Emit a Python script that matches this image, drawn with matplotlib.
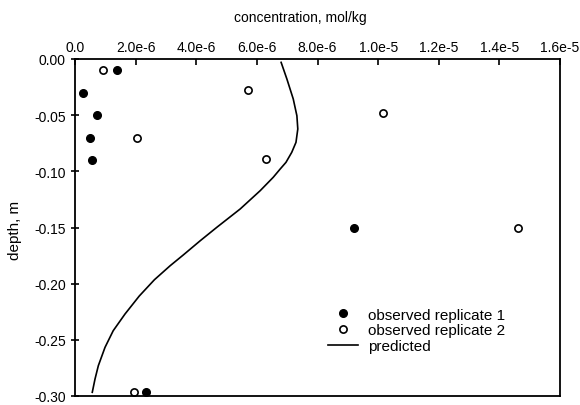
import matplotlib
matplotlib.use("Agg")
import matplotlib.pyplot as plt

plt.rcParams['font.family'] = ['Liberation Sans', 'DejaVu Sans']
plt.rcParams['axes.unicode_minus'] = False

# observed replicate 1 (filled)
rep1_conc = [1.40e-6, 0.27e-6, 0.74e-6, 0.48e-6, 0.56e-6, 9.20e-6, 2.33e-6]
rep1_depth = [-0.01, -0.03, -0.05, -0.07, -0.09, -0.15, -0.296]

# observed replicate 2 (open)
rep2_conc = [0.93e-6, 2.04e-6, 5.71e-6, 6.30e-6, 10.17e-6, 14.63e-6, 1.96e-6]
rep2_depth = [-0.01, -0.07, -0.028, -0.089, -0.048, -0.15, -0.296]

# predicted profile
pred_conc = [6.80e-6, 6.99e-6, 7.20e-6, 7.32e-6, 7.35e-6, 7.29e-6, 7.15e-6, 6.96e-6,
             6.77e-6, 6.54e-6, 6.11e-6, 5.45e-6, 4.68e-6, 4.13e-6, 3.57e-6, 3.14e-6,
             2.62e-6, 2.12e-6, 1.65e-6, 1.26e-6, 0.99e-6, 0.77e-6, 0.66e-6, 0.57e-6]
pred_depth = [-0.003, -0.0178, -0.0356, -0.0505, -0.0623, -0.0742, -0.0831, -0.0920,
              -0.0979, -0.1053, -0.1172, -0.1335, -0.1498, -0.1618, -0.1745, -0.1840,
              -0.1965, -0.2110, -0.2270, -0.2419, -0.2567, -0.2730, -0.2849, -0.2967]

xticks = [0, 2e-6, 4e-6, 6e-6, 8e-6, 1e-5, 1.2e-5, 1.4e-5, 1.6e-5]
xtick_labels = ['0.0', '2.0e-6', '4.0e-6', '6.0e-6', '8.0e-6', '1.0e-5', '1.2e-5', '1.4e-5', '1.6e-5']
yticks = [0.0, -0.05, -0.10, -0.15, -0.20, -0.25, -0.30]
ytick_labels = ['0.00', '-0.05', '-0.10', '-0.15', '-0.20', '-0.25', '-0.30']

fig = plt.figure(figsize=(5.8, 4.06), dpi=100)
ax = fig.add_axes([75/580, 1-397/406, (560-75)/580, (397-60)/406])

ax.plot(rep1_conc, rep1_depth, 'o', color='black', markersize=5.5, label='observed replicate 1', clip_on=False)
ax.plot(rep2_conc, rep2_depth, 'o', markerfacecolor='white', markeredgecolor='black',
        markeredgewidth=1.2, markersize=5.2, label='observed replicate 2', clip_on=False)
ax.plot(pred_conc, pred_depth, '-', color='black', linewidth=1.2, label='predicted',
        solid_joinstyle='round')

ax.set_xlim(0, 1.6e-5)
ax.set_ylim(-0.30, 0.0)
ax.xaxis.tick_top()
ax.set_xticks(xticks)
ax.set_xticklabels(xtick_labels)
ax.set_yticks(yticks)
ax.set_yticklabels(ytick_labels)
ax.tick_params(axis='x', direction='in', length=4, width=1.2, labelsize=10, pad=3.5,
               top=True, bottom=False)
ax.tick_params(axis='y', direction='inout', length=6, width=1.2, labelsize=10, pad=3.5,
               left=True, right=False)
for s in ax.spines.values():
    s.set_linewidth(1.3)

fig.text(300/580, 1-18/406, 'concentration, mol/kg', fontsize=10, ha='center', va='center')
fig.text(15/580, 1-230/406, 'depth, m', fontsize=11, rotation=90, ha='center', va='center')

leg = ax.legend(loc='upper left', bbox_to_anchor=(0.5216, 0.2626), frameon=False,
                fontsize=11, handlelength=1.96, handletextpad=0.65, labelspacing=0.12,
                borderpad=0, borderaxespad=0)

fig.savefig('out.png', dpi=100)
